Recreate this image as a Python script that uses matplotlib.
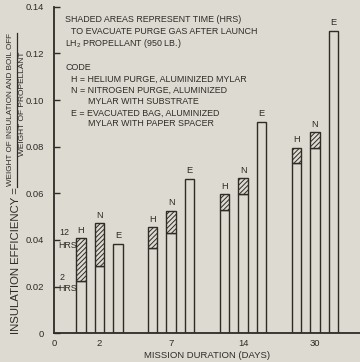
import numpy as np
import matplotlib
matplotlib.use("Agg")
import matplotlib.pyplot as plt

# Werte (Insulation efficiency)
tage = ["2", "7", "14", "30"]
h_2std = [0.0225, 0.0364, 0.0529, 0.0729]
h_12std = [0.0408, 0.0454, 0.0597, 0.0796]
n_2std = [0.0288, 0.0429, 0.0597, 0.0793]
n_12std = [0.0471, 0.0525, 0.0664, 0.0862]
e_werte = [0.0383, 0.0663, 0.0907, 0.1296]
y_ticks = [0, 0.02, 0.04, 0.06, 0.08, 0.10, 0.12, 0.14]
y_labels = ["0", "0.02", "0.04", "0.06", "0.08", "0.10", "0.12", "0.14"]

papier = "#dcdad1"
tinte = "#2f2b27"
schrift = ["Liberation Sans", "DejaVu Sans"]
fs = 6.4
plt.rcParams["font.family"] = schrift
plt.rcParams["hatch.color"] = tinte
plt.rcParams["hatch.linewidth"] = 0.7

W, H = 360, 362
fig = plt.figure(figsize=(W / 100, H / 100), dpi=100, facecolor=papier)
ax = fig.add_axes([54 / W, 1 - 333.3 / H, 306 / W, 326.6 / H])
ax.set_facecolor(papier)

pos = 0.63 + np.arange(len(tage)) * 0.998
versatz = 0.257
breite = 0.132

def balken(x, unten, oben, schraffur):
    # unterer Teil (2 Std.) offen, oberer Teil (bis 12 Std.) schraffiert
    ax.bar(x, unten, breite, color=papier, edgecolor=tinte, linewidth=1.0)
    ax.bar(x, oben - unten, breite, bottom=unten, color=papier,
           edgecolor=tinte, linewidth=1.0, hatch=schraffur)

for i in range(len(tage)):
    balken(pos[i] - versatz, h_2std[i], h_12std[i], "///////")
    balken(pos[i], n_2std[i], n_12std[i], "///////")
    ax.bar(pos[i] + versatz, e_werte[i], breite, color=papier,
           edgecolor=tinte, linewidth=1.0)
    for dx, y, buchst in [(-versatz, h_12std[i], "H"), (0, n_12std[i], "N"),
                          (versatz, e_werte[i], "E")]:
        ax.annotate(buchst, (pos[i] + dx, y), xytext=(0, 2.5),
                    textcoords="offset points", ha="center", va="bottom",
                    fontsize=fs + 0.3, color=tinte)

ax.set_xlim(0, 4.25)
ax.set_ylim(0, 0.14)
ax.set_xticks([0] + list(pos))
ax.set_xticklabels(["0"] + tage)
ax.set_yticks(y_ticks)
ax.set_yticklabels(y_labels)
ax.tick_params(axis="y", direction="in", length=4, width=1.0, color=tinte,
               labelsize=fs + 0.4, labelcolor=tinte, pad=7)
ax.tick_params(axis="x", length=0, labelsize=fs + 0.4, labelcolor=tinte, pad=4)
for s in ["top", "right"]:
    ax.spines[s].set_visible(False)
for s in ["left", "bottom"]:
    ax.spines[s].set_color(tinte)
    ax.spines[s].set_linewidth(1.3)

# 12 HRS / 2 HRS Beschriftung an der Achse
ax.text(0.07, 0.0430, "12", fontsize=fs, color=tinte, va="center")
ax.text(0.055, 0.0378, "HRS", fontsize=fs, color=tinte, va="center")
ax.text(0.07, 0.0241, "2", fontsize=fs, color=tinte, va="center")
ax.text(0.055, 0.0194, "HRS", fontsize=fs, color=tinte, va="center")

# Legende als Text
zeilen = [
    (65, 20, "SHADED AREAS REPRESENT TIME (HRS)"),
    (71, 32, "TO EVACUATE PURGE GAS AFTER LAUNCH"),
    (65, 44, r"LH$_\mathregular{2}$ PROPELLANT (950 LB.)"),
    (65, 67, "CODE"),
    (71, 79, "H = HELIUM PURGE, ALUMINIZED MYLAR"),
    (71, 90, "N = NITROGEN PURGE, ALUMINIZED"),
    (88, 101, "MYLAR WITH SUBSTRATE"),
    (71, 113, "E = EVACUATED BAG, ALUMINIZED"),
    (88, 124, "MYLAR WITH PAPER SPACER"),
]
for x, y, t in zeilen:
    fig.text(x / W, 1 - y / H, t, fontsize=fs, color=tinte, va="center")

# y-Achsenbeschriftung als Bruch
fig.text(16 / W, 1 - 261 / H, "INSULATION EFFICIENCY =", rotation=90,
         fontsize=8.2, color=tinte, ha="center", va="center")
fig.text(11 / W, 1 - 110 / H, "WEIGHT OF INSULATION AND BOIL OFF",
         rotation=90, fontsize=5.9, color=tinte, ha="center", va="center")
fig.text(22.5 / W, 1 - 104 / H, "WEIGHT OF PROPELLANT", rotation=90,
         fontsize=6.0, color=tinte, ha="center", va="center")
fig.add_artist(plt.Line2D([16.5 / W, 16.5 / W], [1 - 33 / H, 1 - 187 / H],
                          color=tinte, linewidth=0.9))

fig.text(207 / W, 1 - 356 / H, "MISSION DURATION (DAYS)", fontsize=fs + 0.4,
         color=tinte, ha="center", va="center")

fig.savefig("out.png", dpi=100, facecolor=papier)
